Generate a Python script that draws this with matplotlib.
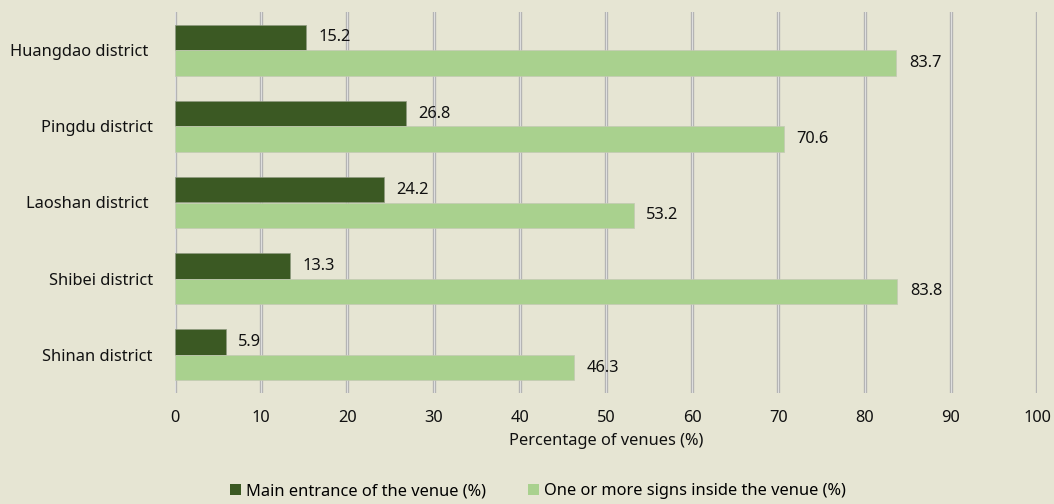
import matplotlib
matplotlib.use("Agg")
import matplotlib.pyplot as plt
import numpy as np
from matplotlib.patches import Patch

districts = ["Huangdao district ", "Pingdu district", "Laoshan district ", "Shibei district", "Shinan district"]
main_entrance = [15.2, 26.8, 24.2, 13.3, 5.9]
signs_inside = [83.7, 70.6, 53.2, 83.8, 46.3]
series_names = ["Main entrance of the venue (%)", "One or more signs inside the venue (%)"]
xticks = [0, 10, 20, 30, 40, 50, 60, 70, 80, 90, 100]

BG = "#e6e5d3"
DARK = "#3b5923"
LIGHT = "#a9d18e"
FS = 11.8

plt.rcParams['font.family'] = ['Noto Sans', 'DejaVu Sans']

W, H = 1054, 504
fig = plt.figure(figsize=(W / 100, H / 100), dpi=100, facecolor=BG)
ax = fig.add_axes([175 / W, 1 - 393 / H, (1037 - 175) / W, (393 - 12) / H])
ax.set_facecolor(BG)

y = np.arange(len(districts))
bh = 0.335
b1 = ax.barh(y - bh / 2, main_entrance, height=bh, color=DARK, edgecolor="#8f9a80", linewidth=0.5, zorder=3)
b2 = ax.barh(y + bh / 2, signs_inside, height=bh, color=LIGHT, edgecolor="#c4c9b4", linewidth=0.5, zorder=3)

for bars, vals in ((b1, main_entrance), (b2, signs_inside)):
    for rect, v in zip(bars, vals):
        ax.annotate(f"{v:.1f}", (rect.get_width(), rect.get_y() + rect.get_height() / 2),
                    xytext=(9, 0), textcoords="offset points", ha="left", va="center",
                    fontsize=FS, color="#111111", zorder=4)

ax.set_xlim(0, 100)
ax.set_ylim(len(districts) - 0.5, -0.5)
ax.set_xticks(xticks)
ax.set_xticklabels([str(t) for t in xticks], fontsize=FS, color="#111111")
ax.set_yticks(y)
ax.set_yticklabels(districts, fontsize=FS, color="#111111")
ax.tick_params(axis="x", length=0, pad=12)
ax.tick_params(axis="y", length=0, pad=16)

for t in xticks:
    ax.axvline(t, color="#b2b2b2", linewidth=2.4, zorder=1)
    ax.axvline(t, color="#dedede", linewidth=0.8, zorder=1)

for s in ax.spines.values():
    s.set_visible(False)

ax.set_xlabel("Percentage of venues (%)", fontsize=FS, color="#111111", labelpad=5)

handles = [Patch(facecolor=DARK, edgecolor="none"), Patch(facecolor=LIGHT, edgecolor="none")]
fig.legend(handles, series_names, loc="center", bbox_to_anchor=(538 / W, 1 - 491 / H),
           ncol=2, frameon=False, fontsize=FS, handlelength=0.65, handleheight=0.65,
           handletextpad=0.3, columnspacing=2.6)

fig.savefig("out.png", dpi=100, facecolor=BG)
